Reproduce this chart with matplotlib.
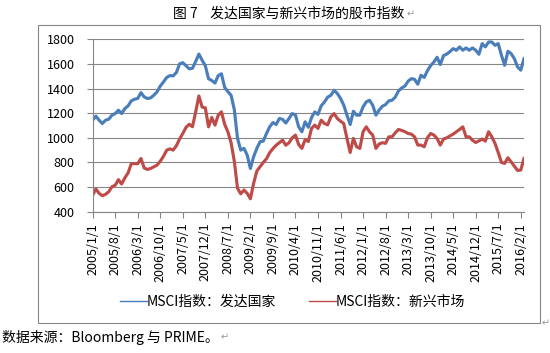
import numpy as np
import pandas as pd
import matplotlib
matplotlib.use('Agg')
import matplotlib.pyplot as plt
from matplotlib.lines import Line2D
from matplotlib.patches import Rectangle

plt.rcParams['font.family'] = ['Noto Sans CJK SC', 'DejaVu Sans']

# monthly data, 2005/1 .. 2016/3
dates = pd.date_range('2005-01-01', periods=135, freq='MS')

developed = [
    1143, 1176, 1143, 1116, 1143, 1151, 1184, 1197, 1224, 1197, 1238, 1259,
    1300, 1313, 1320, 1367, 1332, 1319, 1324, 1346, 1373, 1420, 1454,
    1490, 1505, 1503, 1530, 1600, 1610, 1585, 1560, 1565, 1620, 1680, 1630,
    1585, 1480, 1465, 1445, 1505, 1520, 1410, 1375, 1345, 1230,
    995, 900, 914, 860, 751, 846, 914, 968, 973, 1035, 1089, 1124, 1108,
    1157, 1150, 1120, 1157, 1197, 1185, 1089, 1049, 1130, 1085, 1165, 1210,
    1190, 1260, 1290, 1330, 1345, 1386, 1360, 1320, 1265, 1184, 1108, 1216,
    1184, 1184, 1251, 1292, 1305, 1265, 1184, 1225,
    1256, 1270, 1300, 1305, 1330, 1380, 1405, 1420, 1460, 1480, 1475, 1435,
    1508, 1490, 1545, 1586, 1615, 1654, 1595, 1667, 1680, 1700, 1724,
    1711, 1738, 1711, 1730, 1711, 1730, 1711, 1678, 1765, 1738, 1778, 1778,
    1751, 1765, 1670, 1589, 1703, 1684, 1643, 1576, 1549, 1643,
]

emerging = [
    535, 584, 549, 530, 541, 562, 603, 615, 660, 625, 675, 715,
    790, 790, 790, 832, 755, 743, 751, 765, 778, 810, 850,
    900, 910, 900, 935, 990, 1035, 1085, 1110, 1090, 1210, 1340, 1250,
    1243, 1089, 1165, 1103, 1184, 1211, 1110, 1049, 960, 810,
    590, 545, 576, 549, 505, 630, 730, 765, 800, 830, 880, 912, 940,
    960, 981, 940, 960, 1000, 1022, 945, 914, 985, 970, 1076, 1103,
    1076, 1143, 1116, 1105, 1170, 1197, 1157, 1135, 1116, 995, 881, 995,
    927, 914, 1049, 1089, 1049, 1022, 914, 950,
    960, 955, 1008, 1008, 1040, 1068, 1060, 1050, 1035, 1030, 1008, 941,
    941, 927, 1000, 1035, 1022, 995, 941, 990, 1000, 1015, 1030,
    1049, 1068, 1089, 1008, 1008, 980, 962, 975, 990, 973, 1049, 1008,
    954, 880, 800, 792, 838, 805, 770, 735, 738, 832,
]

names = ['MSCI指数：发达国家', 'MSCI指数：新兴市场']
colors = ['#4A7EBB', '#BE4B48']
grey = '#868686'

fig = plt.figure(figsize=(5.5, 3.53), dpi=100)

# chart frame
fig.patches.append(Rectangle((0.069, 0.085), 0.912, 0.845, transform=fig.transFigure,
                             fill=False, edgecolor=grey, lw=0.8))

ax = fig.add_axes([0.1685, 0.4003, 0.7842, 0.4884])
x = np.arange(len(dates))
ax.plot(x, developed, color=colors[0], lw=2.25)
ax.plot(x, emerging, color=colors[1], lw=2.25)

ax.set_xlim(0, len(x) - 1)
ax.set_ylim(400, 1800)
ax.set_yticks(range(400, 1801, 200))
ax.set_xticks(x[::7])
ax.set_xticklabels([f'{d.year}/{d.month}/1' for d in dates[::7]], rotation=90)

ax.set_axisbelow(True)
ax.yaxis.grid(True, color=grey, lw=0.8)
for s in ['top', 'right']:
    ax.spines[s].set_visible(False)
for s in ['left', 'bottom']:
    ax.spines[s].set_color(grey)
    ax.spines[s].set_linewidth(0.8)
ax.tick_params(axis='both', length=4, color=grey, labelsize=9)
ax.tick_params(axis='y', pad=9)
ax.tick_params(axis='x', pad=4)

handles = [Line2D([], [], color=c, lw=1) for c in colors]
fig.legend(handles, names, loc='center', bbox_to_anchor=(0.532, 0.145), ncol=2,
           frameon=False, fontsize=10, handlelength=1.9, handletextpad=0.0,
           columnspacing=2.4)

# title, footer and the paragraph marks
r = fig.canvas.get_renderer()
title = fig.text(0.525, 0.960, '图 7    发达国家与新兴市场的股市指数', ha='center',
                 va='center', fontsize=10)
foot = fig.text(0.004, 0.045, '数据来源：Bloomberg 与 PRIME。', ha='left',
                va='center', fontsize=10)
for t in [title, foot]:
    bb = t.get_window_extent(r)
    fig.text(bb.x1 / fig.bbox.width + 0.003, t.get_position()[1], '↵',
             ha='left', va='center', fontsize=7, color='#999999')
fig.text(0.984, 0.085, '↵', ha='left', va='center', fontsize=7, color='#999999')

fig.savefig('out.png', dpi=100)
